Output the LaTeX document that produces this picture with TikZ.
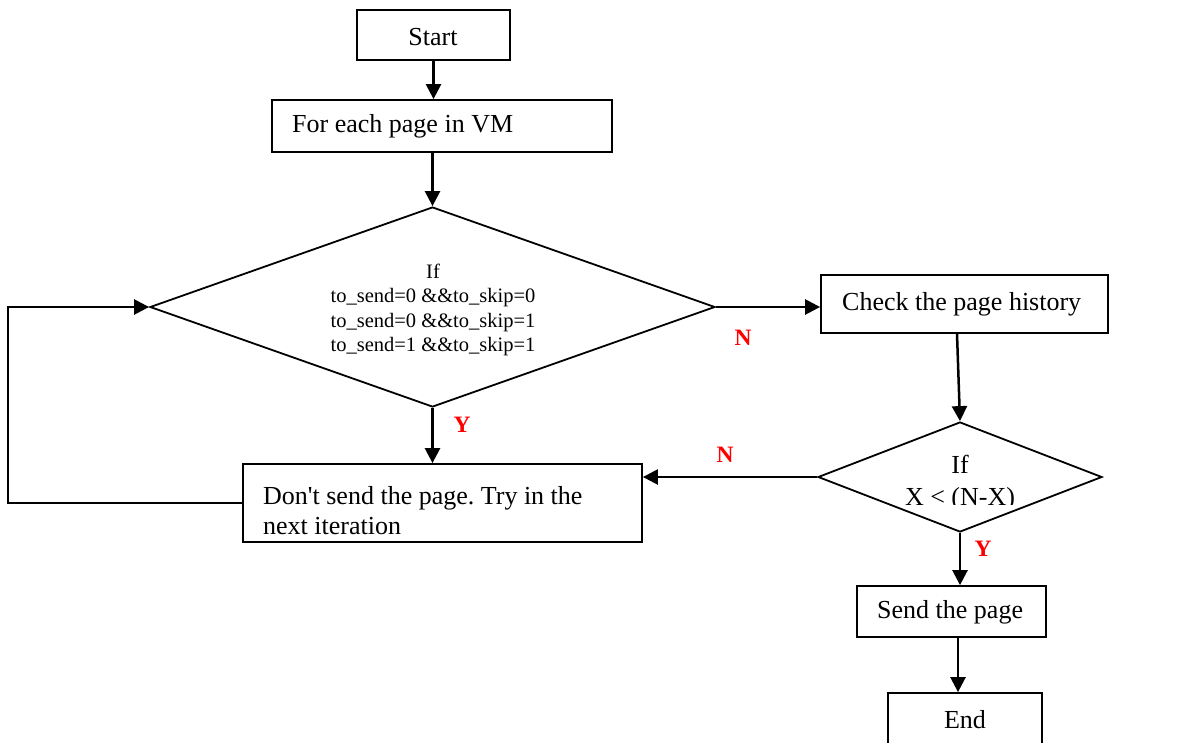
\documentclass[tikz,border=0pt]{standalone}
\usepackage{fontspec}
\setmainfont{Liberation Serif}
\frenchspacing
\usetikzlibrary{shapes.geometric,arrows.meta,calc}
\begin{document}
\begin{tikzpicture}[x=1pt,y=-1pt,
  box/.style={draw,line width=1.8pt,inner sep=0pt},
  txt/.style={inner sep=0pt,font=\fontsize{26}{30}\selectfont},
  dec/.style={draw,shape=diamond,line width=1.8pt,inner sep=0pt},
  arr/.style={line width=2.5pt,-{Triangle[length=15pt,width=15pt]}},
  lab/.style={text=red,font=\fontsize{23.5}{26}\selectfont\bfseries}]
\useasboundingbox (0,0) rectangle (1177,742);
% boxes
\node[box, minimum width=153pt, minimum height=50pt] (start) at (433.5,35) {};
\node[txt] (startt) at (433,37) {Start};
\node[box, minimum width=340pt, minimum height=52pt] (fe) at (442,126) {};
\node[txt, anchor=west] (fet) at (292,126) {For each page in VM};
\node[dec, minimum width=565pt, minimum height=200pt] (d1) at (432.5,307) {};
\node[align=center, inner sep=0pt, font=\fontsize{20.5}{24.5}\selectfont] (d1t) at (433,310)
  {If\\to\_send=0 \&\&to\_skip=0\\to\_send=0 \&\&to\_skip=1\\to\_send=1 \&\&to\_skip=1};
\node[box, minimum width=287pt, minimum height=58pt] (check) at (964.5,304) {};
\node[txt, anchor=west] (checkt) at (842,304) {Check the page history};
\node[dec, minimum width=284pt, minimum height=110pt] (d2) at (960,477) {};
\begin{scope}
  \clip (800,420) rectangle (1110,504);
  \node[font=\fontsize{26}{32}\selectfont, align=center, inner sep=0pt] (d2t) at (960,483) {If\\X < (N-X)};
\end{scope}
\node[box, minimum width=399pt, minimum height=78pt] (dont) at (442.5,503) {};
\node[txt, anchor=west, align=left] (dontt) at (263,511) {Don\textquotesingle t send the page. Try in the\\next iteration};
\node[box, minimum width=189pt, minimum height=51pt] (send) at (951.5,611.5) {};
\node[txt, anchor=west] (sendt) at (877,612) {Send the page};
\node[box, minimum width=154pt, minimum height=53pt] (end) at (965,719.5) {};
\node[txt] (endt) at (965,720) {End};
% labels
\node[lab] (n1) at (743,338) {N};
\node[lab] (y1) at (462,425) {Y};
\node[lab] (n2) at (725,455) {N};
\node[lab] (y2) at (983,549) {Y};
% connectors
\draw[arr] (start.south) -- (start.south |- fe.north);
\draw[arr] (d1.north |- fe.south) -- (d1.north);
\draw[arr] (d1.east) -- (d1.east -| check.west);
\draw[arr] ([xshift=-3pt]d2.north |- check.south) -- (d2.north);
\draw[arr] (d2.west) -- (d2.west -| dont.east);
\draw[arr] (d1.south) -- (d1.south |- dont.north);
\draw[arr] (dont.west) -- ++(-234,0) |- (d1.west);
\draw[arr] (d2.south) -- (d2.south |- send.north);
\draw[arr] ([xshift=6.5pt]send.south) -- ([xshift=6.5pt]send.south |- end.north);
\end{tikzpicture}
\end{document}
